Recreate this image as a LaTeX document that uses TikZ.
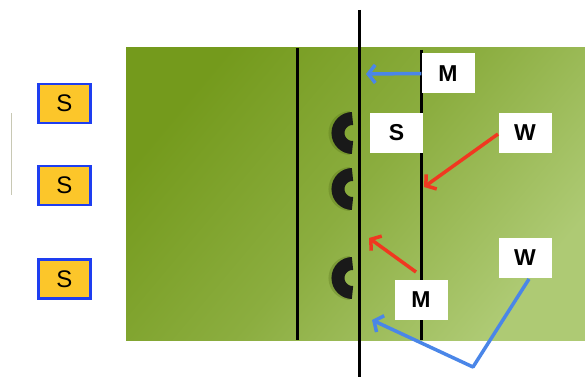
\documentclass[tikz,border=0pt]{standalone}
\usepackage{fontspec}
\setmainfont{Liberation Sans}
\usetikzlibrary{arrows.meta}
\definecolor{gA}{RGB}{116,154,28}
\definecolor{gB}{RGB}{174,202,116}
\definecolor{gold}{RGB}{252,198,42}
\definecolor{boxblue}{RGB}{30,62,240}
\definecolor{arrblue}{RGB}{74,134,232}
\definecolor{arrred}{RGB}{240,56,32}
\definecolor{faint}{RGB}{200,200,180}
\begin{document}
\begin{tikzpicture}[x=1pt,y=-1pt,
  sbox/.style={draw=boxblue,line width=2.6pt,fill=gold,minimum width=52pt,minimum height=39pt,inner sep=0pt,font=\fontsize{24}{24}\selectfont},
  lbl/.style={fill=white,minimum width=53pt,minimum height=40pt,inner sep=0pt,font=\fontsize{23}{23}\selectfont\bfseries},
  vline/.style={line width=3pt,black},
  arr/.style={line width=3.5pt,-{Straight Barb[length=7pt,width=18pt,line width=3.5pt]}},
  cring/.style={line width=13pt,black!90}]
\useasboundingbox (0,0) rectangle (585,377);
% green field
\shade[top color=gA,bottom color=gB,middle color=gA!60!gB,shading angle=50] (126,48) rectangle (585,340);
% faint line
\draw[faint,line width=0.8pt] (11,113) -- (11,195);
% left S boxes
\node[sbox] (s1) at (64.5,103.5) {S};
\node[sbox] (s2) at (64.5,185.5) {S};
\node[sbox] (s3) at (64.5,279) {S};
% C shapes (with soft shadow)
\foreach \cy/\nm in {133/c1,189/c2,278/c3}{
  \draw[line width=14pt,gA!70!black,opacity=0.3] (350.5,\cy-15) arc[start angle=90,end angle=270,radius=15pt];
  \draw[cring] (352.5,\cy-14.5) arc[start angle=90,end angle=270,radius=14.5pt];
  \coordinate (\nm) at (352,\cy);
}
% vertical lines
\coordinate (l1t) at (297,48); \coordinate (l1b) at (297,340);
\coordinate (l2t) at (359,10); \coordinate (l2b) at (359,377);
\coordinate (l3t) at (421,50); \coordinate (l3b) at (421,340);
\draw[vline] (l1t) -- (l1b);
\draw[vline] (l2t) -- (l2b);
\draw[vline] (l3t) -- (l3b);
% label boxes
\node[lbl] (m1) at (448,73.5) {M};
\node[lbl] (s4) at (396.5,133) {S};
\node[lbl] (w1) at (525,133) {W};
\node[lbl] (w2) at (525,258) {W};
\node[lbl] (m2) at (421,300) {M};
% arrows
\coordinate (a1) at (366,74);
\draw[arr,arrblue] (m1.west) -- (a1);
\coordinate (r1s) at (498,134);
\coordinate (r1e) at (424,187);
\draw[arr,arrred] (r1s) -- (r1e);
\coordinate (r2s) at (416,272);
\coordinate (r2e) at (369,238);
\draw[arr,arrred] (r2s) -- (r2e);
\coordinate (b2s) at (529,279);
\coordinate (b2m) at (473,367);
\coordinate (b2e) at (372,320);
\draw[arr,arrblue,line join=round] (b2s) -- (b2m) -- (b2e);
\end{tikzpicture}
\end{document}
